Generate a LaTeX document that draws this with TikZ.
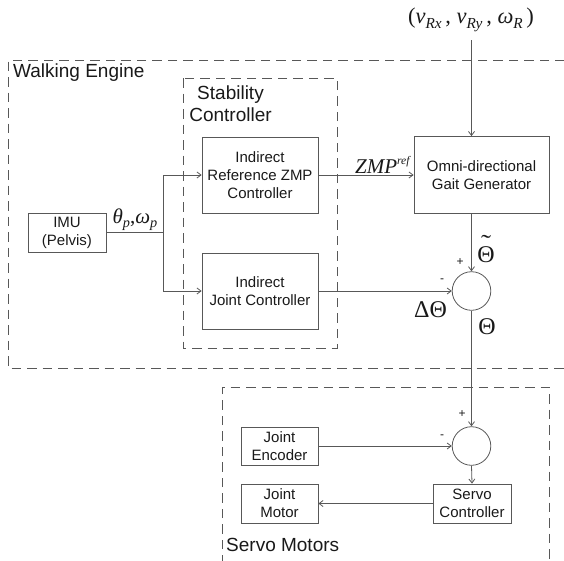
\documentclass[tikz,border=0pt]{standalone}
\usepackage{fontspec}
\setmainfont{Liberation Sans}
\newfontfamily\tms{Liberation Serif}
\usetikzlibrary{arrows.meta}
\definecolor{ln}{RGB}{88,88,88}
\definecolor{tx}{RGB}{25,25,25}
\newcommand\mysub[1]{\raisebox{-0.45ex}{\scalebox{0.68}{#1}}}
\newcommand\tilTheta{\setbox0\hbox{Θ}\rlap{\hbox to\wd0{\hss\raisebox{0.42em}{\scalebox{1.25}[1]{˜}}\hss}}Θ}
\begin{document}
\begin{tikzpicture}[x=1pt,y=-1pt,
  blk/.style={draw=ln,line width=0.8pt,minimum width=#1,align=center,inner sep=0pt,
     font=\fontsize{15}{18}\selectfont,text=tx},
  sumc/.style={draw=ln,line width=0.8pt,circle,minimum size=38.6pt,inner sep=0pt},
  conn/.style={draw=ln,line width=0.8pt,-{Straight Barb[length=4pt,width=6pt]}},
  wire/.style={draw=ln,line width=0.8pt},
  grp/.style={draw=ln,line width=0.8pt,dash pattern=on 9.5pt off 6pt},
  ttl/.style={font=\fontsize{19}{22}\selectfont,text=tx,inner sep=0pt},
  mth/.style={font=\fontsize{21}{24}\selectfont\tms,text=tx,inner sep=0pt},
  big/.style={font=\fontsize{24}{26}\selectfont\tms,text=tx,inner sep=0pt},
  sgn/.style={font=\fontsize{12}{14}\selectfont,text=tx,inner sep=0pt}]
\useasboundingbox (0,0) rectangle (564,560);
\clip (0,0) rectangle (564,560);
% group frames
\draw[grp] (580,60) -- (8,60) -- (8,368) -- (580,368);
\draw[grp] (183,78) rectangle (337,348);
\draw[grp] (222,580) -- (222,387) -- (549,387) -- (549,580);
% group titles
\node[ttl,anchor=west] (tWE) at (13,73) {Walking Engine};
\node[ttl,align=center] (tSC) at (230.5,104) {Stability\\Controller};
\node[ttl,anchor=west] (tSM) at (226,545) {Servo Motors};
% blocks
\node[blk=78pt,minimum height=39pt] (imu) at (67,232.5) {IMU\\(Pelvis)};
\node[blk=116pt,minimum height=76pt] (zmp) at (260,175) {Indirect\\Reference ZMP\\Controller};
\node[blk=116pt,minimum height=76pt] (jc) at (260,291) {Indirect\\Joint Controller};
\node[blk=135pt,minimum height=77pt] (gait) at (481.5,175) {Omni-directional\\Gait Generator};
\node[sumc] (s1) at (471.5,291) {};
\node[sumc] (s2) at (471.5,446) {};
\node[blk=77pt,minimum height=38pt] (enc) at (279.5,446) {Joint\\Encoder};
\node[blk=77pt,minimum height=39pt] (mot) at (279.5,503.5) {Joint\\Motor};
\node[blk=78pt,minimum height=39pt] (servo) at (472,503.5) {Servo\\Controller};
% input
\node[mth,font=\fontsize{22.5}{26}\selectfont\tms] (vel) at (471,20) {(\textit{v}\mysub{\textit{Rx}}\,, \textit{v}\mysub{\textit{Ry}}\,, \textit{ω}\mysub{\textit{R}}\,)};
\coordinate (vtop) at (471.5,40);
\coordinate (br) at (163,232.5);
% connectors
\draw[wire] (imu.east) -- (br);
\draw[conn] (br) |- (zmp.west);
\draw[conn] (br) |- (jc.west);
\draw[conn] (zmp.east) -- (gait.west);
\draw[conn] (vtop) -- (vtop |- gait.north);
\draw[conn] (s1.north |- gait.south) -- (s1.north);
\draw[conn] (jc.east) -- (s1.west);
\draw[conn] (s1.south) -- (s2.north);
\draw[conn] (enc.east) -- (s2.west);
\draw[conn] (s2.south) -- (servo.north);
\draw[conn] (servo.west) -- (mot.east);
% labels
\node[mth] (lth) at (135,220) {\textit{θ}\mysub{\textit{p}},\textit{ω}\mysub{\textit{p}}};
\node[mth] (lzmp) at (383,165) {\textit{ZMP}\raisebox{1.0ex}{\scalebox{0.55}{\textit{ref}}}};
\node[sgn] (p1) at (460,262) {+};
\node[big,anchor=base] (lthw) at (486,262) {\tilTheta};
\node[sgn] (m1) at (442,281) {-};
\node[big] (ldth) at (430.5,310) {ΔΘ};
\node[big] (lth2) at (487,327) {Θ};
\node[sgn] (p2) at (462,414) {+};
\node[sgn] (m2) at (442,437) {-};
\end{tikzpicture}
\end{document}
